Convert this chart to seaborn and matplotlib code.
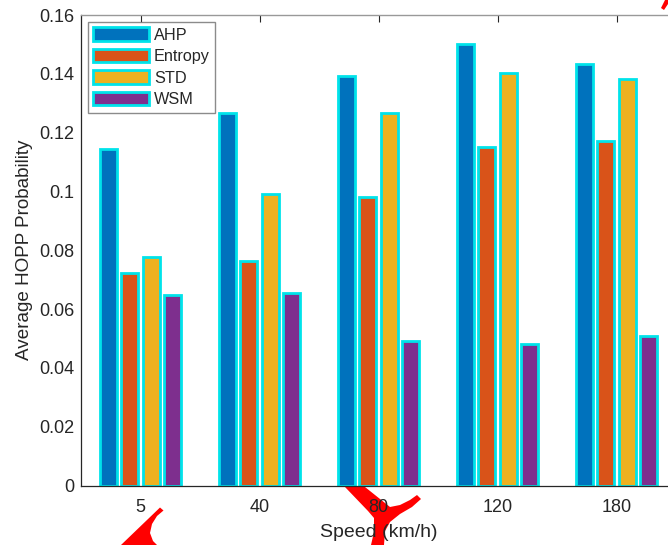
import numpy as np
import pandas as pd
import matplotlib
matplotlib.use("Agg")
import matplotlib.pyplot as plt
import matplotlib.patches as mpatches
import seaborn as sns

# values
speeds = ["5", "40", "80", "120", "180"]
methods = ["AHP", "Entropy", "STD", "WSM"]
ahp = [0.1144, 0.1268, 0.1394, 0.1500, 0.1433]
entropy = [0.0724, 0.0763, 0.0981, 0.1150, 0.1173]
std_vals = [0.0778, 0.0992, 0.1266, 0.1404, 0.1382]
wsm = [0.0648, 0.0656, 0.0492, 0.0482, 0.0508]
yticks = [0, 0.02, 0.04, 0.06, 0.08, 0.10, 0.12, 0.14, 0.16]
ytick_labels = ["0", "0.02", "0.04", "0.06", "0.08", "0.1", "0.12", "0.14", "0.16"]

colors = ["#0072BD", "#D95319", "#EDB120", "#7E2F8E"]
edge = "#00E3EA"
dark = "#262626"

df = pd.DataFrame({
    "Speed": speeds * 4,
    "Method": np.repeat(methods, len(speeds)),
    "Value": ahp + entropy + std_vals + wsm,
})

sns.set_theme(style="white")
plt.rcParams["font.family"] = ["Liberation Sans", "DejaVu Sans"]

W, H = 668, 545
fig = plt.figure(figsize=(W / 100, H / 100), dpi=100)
# axes runs slightly past the right edge, like the cropped original
ax = fig.add_axes([81 / W, 1 - 485.5 / H, 595 / W, 470.5 / H])

sns.barplot(data=df, x="Speed", y="Value", hue="Method", order=speeds,
            hue_order=methods, palette=colors, width=0.72, gap=0.2,
            edgecolor=edge, linewidth=2, saturation=1, legend=False, ax=ax)

ax.set_xlim(-0.5, 4.5)
ax.set_ylim(0, 0.16)
ax.set_yticks(yticks)
ax.set_yticklabels(ytick_labels)
ax.set_xlabel("Speed (km/h)", fontsize=14, color=dark, labelpad=6)
ax.set_ylabel("Average HOPP Probability", fontsize=13.6, color=dark, labelpad=4)

ax.tick_params(axis="both", direction="in", length=5, width=0.8, colors=dark,
               labelsize=13, top=True, right=True)
ax.tick_params(axis="x", pad=9.5)
ax.tick_params(axis="y", pad=5)

for side in ["left", "bottom"]:
    ax.spines[side].set_color(dark)
    ax.spines[side].set_linewidth(0.9)
ax.spines["top"].set_color("#999999")
ax.spines["top"].set_linewidth(1.0)
ax.spines["right"].set_visible(False)

handles = [mpatches.Patch(facecolor=c, edgecolor=edge, linewidth=2, label=m)
           for c, m in zip(colors, methods)]
leg = ax.legend(handles=handles, loc="upper left", bbox_to_anchor=(0.011, 0.986),
                fontsize=11.7, frameon=True, fancybox=False, borderaxespad=0,
                handlelength=3.45, handleheight=0.9, handletextpad=0.28,
                labelspacing=0.38, borderpad=0.35)
leg.get_frame().set_edgecolor("#6e6e6e")
leg.get_frame().set_linewidth(1.0)

# red annotation fragments that poke into the cropped figure (kept under the text)
red_shapes = [
    [(345, 487), (365, 487), (390, 507), (400, 505), (410, 500), (417, 495),
     (421, 499), (412, 507), (400, 514), (390, 522), (385, 531), (384, 545),
     (371, 545), (374, 532), (374, 518), (368, 511)],
    [(160, 507.5), (163.5, 510.5), (157, 516), (152, 524), (150, 533),
     (153, 541), (157, 545), (121, 545)],
    [(665, 0), (668, 0), (668, 4), (664, 10), (661, 8)],
]
for pts in red_shapes:
    xy = [(x / W, 1 - y / H) for x, y in pts]
    fig.add_artist(mpatches.Polygon(xy, closed=True, facecolor="#FF0000",
                                    edgecolor="none", transform=fig.transFigure,
                                    zorder=-1))

fig.savefig("out.png", dpi=100)
